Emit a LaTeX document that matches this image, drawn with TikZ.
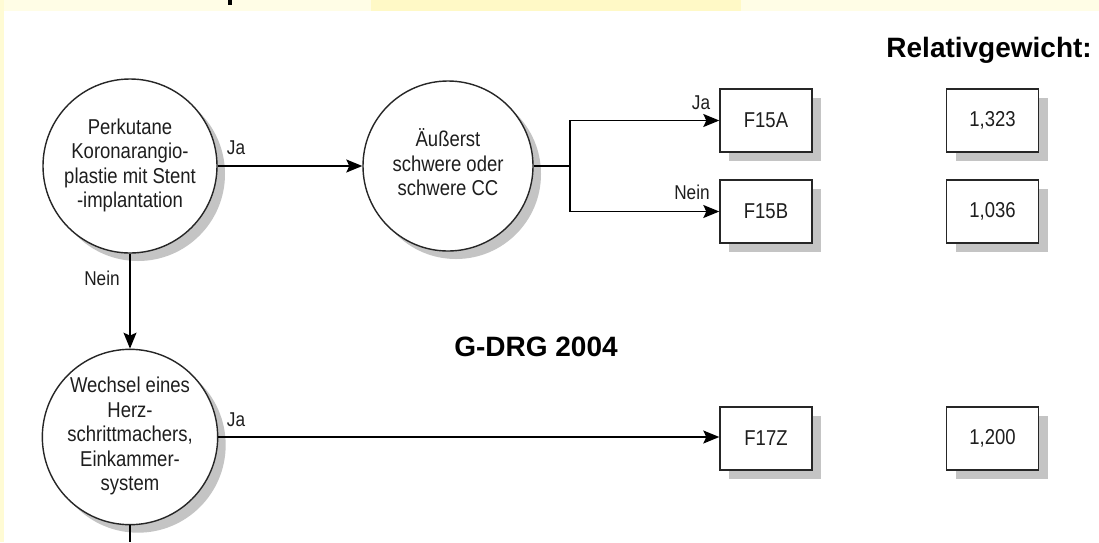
\documentclass[tikz,border=0pt]{standalone}
\usepackage{fontspec}
\setmainfont{Liberation Sans}
\newfontfamily\nodefont[FakeStretch=0.86]{Liberation Sans}
\usetikzlibrary{arrows.meta,shadows}
\definecolor{bandlight}{HTML}{FFFDE6}
\definecolor{bandsat}{HTML}{FFF9C6}
\definecolor{stripcol}{HTML}{FFFBD4}
\definecolor{shadowcol}{HTML}{C4C4C4}
\definecolor{txt}{HTML}{1E1E1E}
\newcommand{\ctext}[2]{\raisebox{#1}{\begin{tabular}{@{}c@{}}#2\end{tabular}}}
\tikzset{
  decision/.style={circle, draw=black!85, line width=1.4pt, fill=white, minimum size=172pt, inner sep=0pt,
    drop shadow={shadow xshift=8pt, shadow yshift=-8pt, fill=shadowcol, opacity=1},
    font=\nodefont\fontsize{21.5}{24.5}\selectfont, text=txt, align=center},
  resbox/.style={rectangle, draw=black!85, line width=1.4pt, fill=white, minimum width=92pt, minimum height=63pt, inner sep=0pt,
    drop shadow={shadow xshift=9pt, shadow yshift=-9pt, fill=shadowcol, opacity=1},
    font=\nodefont\fontsize{21.5}{24.5}\selectfont, text=txt},
  lbl/.style={font=\nodefont\fontsize{20}{24}\selectfont, text=txt, inner sep=0pt},
  conn/.style={line width=1.4pt, draw=black},
  arr/.style={conn, -{Stealth[length=16pt, width=13pt, inset=3pt]}},
  heading/.style={font=\bfseries\fontsize{28}{31}\selectfont, text=black, inner sep=0pt}
}
\begin{document}
\begin{tikzpicture}[x=1pt,y=-1pt]
\useasboundingbox (0,0) rectangle (1099,542);
\fill[white] (0,0) rectangle (1099,542);
% top band and left strip
\fill[bandlight] (0,0) rectangle (1099,11);
\fill[bandsat] (371,0) rectangle (741,11);
\fill[stripcol] (0,0) rectangle (4,542);
\fill[black] (228,0) rectangle (232,5);

% decision circles
\node[decision, minimum size=174pt] (c1) at (130,166) {\ctext{-4pt}{Perkutane\\Koronarangio-\\plastie mit Stent\\-implantation}};
\node[decision, minimum size=170pt] (c2) at (448,166) {\ctext{-4pt}{Äußerst\\schwere oder\\schwere CC}};
\node[decision, minimum size=172pt] (c3) at (130,437) {\ctext{-5pt}{Wechsel eines\\Herz-\\schrittmachers,\\Einkammer-\\system}};

% result boxes
\node[resbox] (f15a) at (766,120.5) {F15A};
\node[resbox] (f15b) at (766,211.5) {F15B};
\node[resbox] (f17z) at (766,438.5) {F17Z};
\node[resbox] (v1) at (992.5,120.5) {1,323};
\node[resbox] (v2) at (992.5,211.5) {1,036};
\node[resbox] (v3) at (992.5,438.5) {1,200};

% headings
\node[heading, anchor=east] (rel) at (1092,50) {Relativgewicht:};
\node[heading] (gdrg) at (536,347) {G-DRG 2004};

% connectors
\coordinate (j) at (570,166);
\coordinate (bot) at (130,542);
\draw[arr] (c1.east) -- (c2.west);
\draw[conn] (c2.east) -- (j);
\draw[arr] (j) |- (f15a.west);
\draw[arr] (j) |- (f15b.west);
\draw[arr] (c1.south) -- (c3.north);
\draw[arr] (c3.east) -- (c3.east -| f17z.west);
\draw[conn] (c3.south) -- (bot);

% labels
\node[lbl] (l1) at (236,148) {Ja};
\node[lbl] (l2) at (102,278) {Nein};
\node[lbl] (l3) at (701,103) {Ja};
\node[lbl] (l4) at (692,192) {Nein};
\node[lbl] (l5) at (236,420) {Ja};
\end{tikzpicture}
\end{document}
